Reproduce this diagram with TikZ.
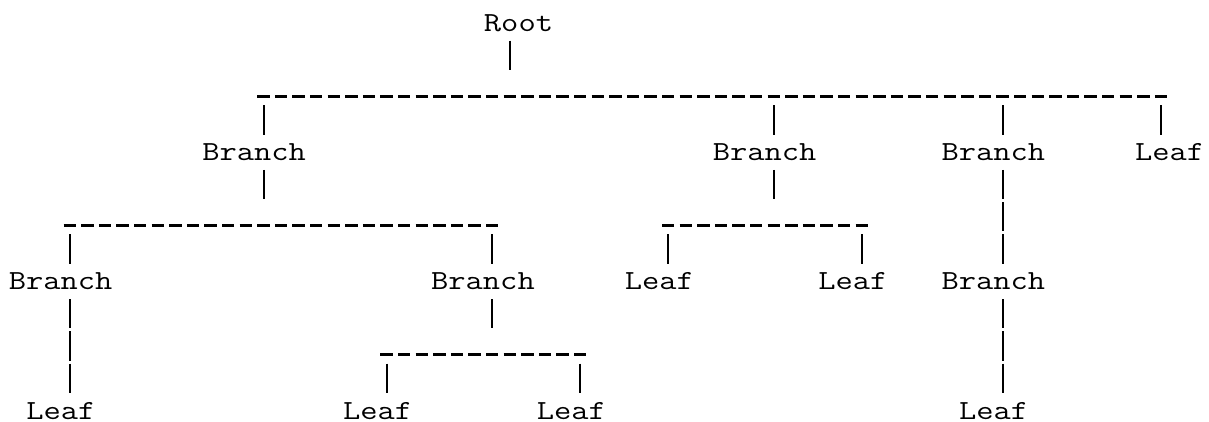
\documentclass[tikz,border=0pt]{standalone}
\usepackage{graphicx}
% widen Latin Modern Mono to a 0.6em typewriter pitch
\newcommand{\mono}[1]{\scalebox{1.215}[1]{#1}}

\begin{document}
\begin{tikzpicture}[x=8.8pt, y=-16.15pt,
    word/.style={anchor=base west, inner sep=0pt, font=\ttfamily\fontsize{13.8}{16}\selectfont},
    pipe/.style={line width=1pt, dash pattern=on 14.62pt off 1.53pt, shorten <=4.6pt, shorten >=13.08pt},
    rail/.style={line width=1.45pt, dash pattern=on 6.16pt off 2.64pt, yshift=3.23pt, shorten <=-3.15pt, shorten >=-3pt}]
  \useasboundingbox (-0.977,-0.975) rectangle (67.72,12.09);

  % words, one grid cell per character
  \node[word] (root) at (26.5,0) {\mono{Root}};
  \node[word] (b1) at (10.5,4) {\mono{Branch}};
  \node[word] (b2) at (39.5,4) {\mono{Branch}};
  \node[word] (b3) at (52.5,4) {\mono{Branch}};
  \node[word] (l1) at (63.5,4) {\mono{Leaf}};
  \node[word] (b4) at (-0.5,8) {\mono{Branch}};
  \node[word] (b5) at (23.5,8) {\mono{Branch}};
  \node[word] (l2) at (34.5,8) {\mono{Leaf}};
  \node[word] (l3) at (45.5,8) {\mono{Leaf}};
  \node[word] (b6) at (52.5,8) {\mono{Branch}};
  \node[word] (l4) at (0.5,12) {\mono{Leaf}};
  \node[word] (l5) at (18.5,12) {\mono{Leaf}};
  \node[word] (l6) at (29.5,12) {\mono{Leaf}};
  \node[word] (l7) at (53.5,12) {\mono{Leaf}};

  % junctions on the dashed rails
  \coordinate (j0) at (28,2);
  \coordinate (a1) at (14,2);
  \coordinate (a2) at (43,2);
  \coordinate (a3) at (56,2);
  \coordinate (a4) at (65,2);
  \coordinate (j1) at (14,6);
  \coordinate (c1) at (3,6);
  \coordinate (c2) at (27,6);
  \coordinate (j2) at (43,6);
  \coordinate (c3) at (37,6);
  \coordinate (c4) at (48,6);
  \coordinate (j3) at (27,10);
  \coordinate (d1) at (21,10);
  \coordinate (d2) at (32,10);

  \draw[rail] (a1) -- (a4);
  \draw[rail] (c1) -- (c2);
  \draw[rail] (c3) -- (c4);
  \draw[rail] (d1) -- (d2);

  \draw[pipe] (root.base -| j0) -- (j0);
  \draw[pipe] (a1) -- (b1.base -| a1);
  \draw[pipe] (a2) -- (b2.base -| a2);
  \draw[pipe] (a3) -- (b3.base -| a3);
  \draw[pipe] (a4) -- (l1.base -| a4);
  \draw[pipe] (b1.base -| j1) -- (j1);
  \draw[pipe] (c1) -- (b4.base -| c1);
  \draw[pipe] (c2) -- (b5.base -| c2);
  \draw[pipe] (b2.base -| j2) -- (j2);
  \draw[pipe] (c3) -- (l2.base -| c3);
  \draw[pipe] (c4) -- (l3.base -| c4);
  \draw[pipe] (b3.base -| a3) -- (b6.base -| a3);
  \draw[pipe] (b4.base -| c1) -- (l4.base -| c1);
  \draw[pipe] (b5.base -| j3) -- (j3);
  \draw[pipe] (d1) -- (l5.base -| d1);
  \draw[pipe] (d2) -- (l6.base -| d2);
  \draw[pipe] (b6.base -| a3) -- (l7.base -| a3);
\end{tikzpicture}
\end{document}
